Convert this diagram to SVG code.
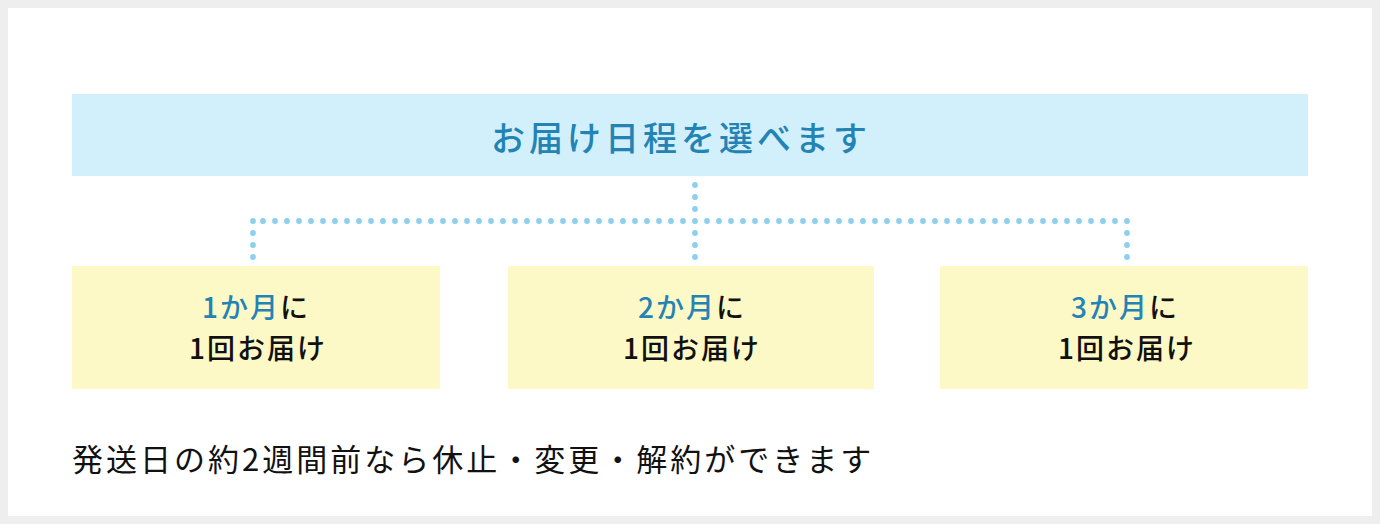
<svg xmlns="http://www.w3.org/2000/svg" width="1380" height="524" viewBox="0 0 1380 524">
<style>
.jp{font-family:"Noto Sans CJK JP","Noto Sans",sans-serif}
.title{font-size:34px;font-weight:500;fill:#2383b5;letter-spacing:4px}
.box{fill:#fdf9c6}
.lbl{font-size:28px;font-weight:500;fill:#111;letter-spacing:2px}
.blue{fill:#2383b5}
.note{font-size:31px;fill:#111;letter-spacing:3px}
#connectors circle{fill:#8ccfee}
</style>
<rect x="0" y="0" width="1380" height="524" fill="#eeeeee"/>
<rect x="8" y="8" width="1364" height="508" fill="#ffffff"/>
<g id="top">
<rect x="72" y="94" width="1236" height="82" fill="#d2f0fc"/>
<text class="jp title" x="491" y="151">お届け日程を選べます</text>
</g>
<g id="connectors">
<circle cx="695" cy="185" r="2.9"/><circle cx="695" cy="197" r="2.9"/><circle cx="695" cy="209" r="2.9"/><circle cx="695" cy="233" r="2.9"/><circle cx="695" cy="245" r="2.9"/><circle cx="695" cy="257" r="2.9"/>
<circle cx="253" cy="221" r="2.9"/><circle cx="253" cy="233" r="2.9"/><circle cx="253" cy="245" r="2.9"/><circle cx="253" cy="257" r="2.9"/>
<circle cx="1127" cy="233" r="2.9"/><circle cx="1127" cy="245" r="2.9"/><circle cx="1127" cy="257" r="2.9"/>
<circle cx="263" cy="221" r="2.9"/><circle cx="275" cy="221" r="2.9"/><circle cx="287" cy="221" r="2.9"/><circle cx="299" cy="221" r="2.9"/><circle cx="311" cy="221" r="2.9"/><circle cx="323" cy="221" r="2.9"/><circle cx="335" cy="221" r="2.9"/><circle cx="347" cy="221" r="2.9"/><circle cx="359" cy="221" r="2.9"/><circle cx="371" cy="221" r="2.9"/><circle cx="383" cy="221" r="2.9"/><circle cx="395" cy="221" r="2.9"/><circle cx="407" cy="221" r="2.9"/><circle cx="419" cy="221" r="2.9"/><circle cx="431" cy="221" r="2.9"/><circle cx="443" cy="221" r="2.9"/><circle cx="455" cy="221" r="2.9"/><circle cx="467" cy="221" r="2.9"/><circle cx="479" cy="221" r="2.9"/><circle cx="491" cy="221" r="2.9"/><circle cx="503" cy="221" r="2.9"/><circle cx="515" cy="221" r="2.9"/><circle cx="527" cy="221" r="2.9"/><circle cx="539" cy="221" r="2.9"/><circle cx="551" cy="221" r="2.9"/><circle cx="563" cy="221" r="2.9"/><circle cx="575" cy="221" r="2.9"/><circle cx="587" cy="221" r="2.9"/><circle cx="599" cy="221" r="2.9"/><circle cx="611" cy="221" r="2.9"/><circle cx="623" cy="221" r="2.9"/><circle cx="635" cy="221" r="2.9"/><circle cx="647" cy="221" r="2.9"/><circle cx="659" cy="221" r="2.9"/><circle cx="671" cy="221" r="2.9"/><circle cx="683" cy="221" r="2.9"/><circle cx="695" cy="221" r="2.9"/>
<circle cx="707" cy="221" r="2.9"/><circle cx="719" cy="221" r="2.9"/><circle cx="731" cy="221" r="2.9"/><circle cx="743" cy="221" r="2.9"/><circle cx="755" cy="221" r="2.9"/><circle cx="767" cy="221" r="2.9"/><circle cx="779" cy="221" r="2.9"/><circle cx="791" cy="221" r="2.9"/><circle cx="803" cy="221" r="2.9"/><circle cx="815" cy="221" r="2.9"/><circle cx="827" cy="221" r="2.9"/><circle cx="839" cy="221" r="2.9"/><circle cx="851" cy="221" r="2.9"/><circle cx="863" cy="221" r="2.9"/><circle cx="875" cy="221" r="2.9"/><circle cx="887" cy="221" r="2.9"/><circle cx="899" cy="221" r="2.9"/><circle cx="911" cy="221" r="2.9"/><circle cx="923" cy="221" r="2.9"/><circle cx="935" cy="221" r="2.9"/><circle cx="947" cy="221" r="2.9"/><circle cx="959" cy="221" r="2.9"/><circle cx="971" cy="221" r="2.9"/><circle cx="983" cy="221" r="2.9"/><circle cx="995" cy="221" r="2.9"/><circle cx="1007" cy="221" r="2.9"/><circle cx="1019" cy="221" r="2.9"/><circle cx="1031" cy="221" r="2.9"/><circle cx="1043" cy="221" r="2.9"/><circle cx="1055" cy="221" r="2.9"/><circle cx="1067" cy="221" r="2.9"/><circle cx="1079" cy="221" r="2.9"/><circle cx="1091" cy="221" r="2.9"/><circle cx="1103" cy="221" r="2.9"/><circle cx="1115" cy="221" r="2.9"/><circle cx="1127" cy="221" r="2.9"/>
</g>
<g id="n1">
<rect class="box" x="72" y="266" width="368" height="123"/>
<text class="jp lbl" x="256" y="318" text-anchor="middle"><tspan class="blue">1か月</tspan>に</text>
<text class="jp lbl" x="258" y="359" text-anchor="middle">1回お届け</text>
</g>
<g id="n2">
<rect class="box" x="508" y="266" width="366" height="123"/>
<text class="jp lbl" x="692" y="318" text-anchor="middle"><tspan class="blue">2か月</tspan>に</text>
<text class="jp lbl" x="692" y="359" text-anchor="middle">1回お届け</text>
</g>
<g id="n3">
<rect class="box" x="940" y="266" width="368" height="123"/>
<text class="jp lbl" x="1125" y="318" text-anchor="middle"><tspan class="blue">3か月</tspan>に</text>
<text class="jp lbl" x="1127" y="359" text-anchor="middle">1回お届け</text>
</g>
<g id="note">
<text class="jp note" x="72" y="471">発送日の約2週間前なら休止・変更・解約ができます</text>
</g>
</svg>
